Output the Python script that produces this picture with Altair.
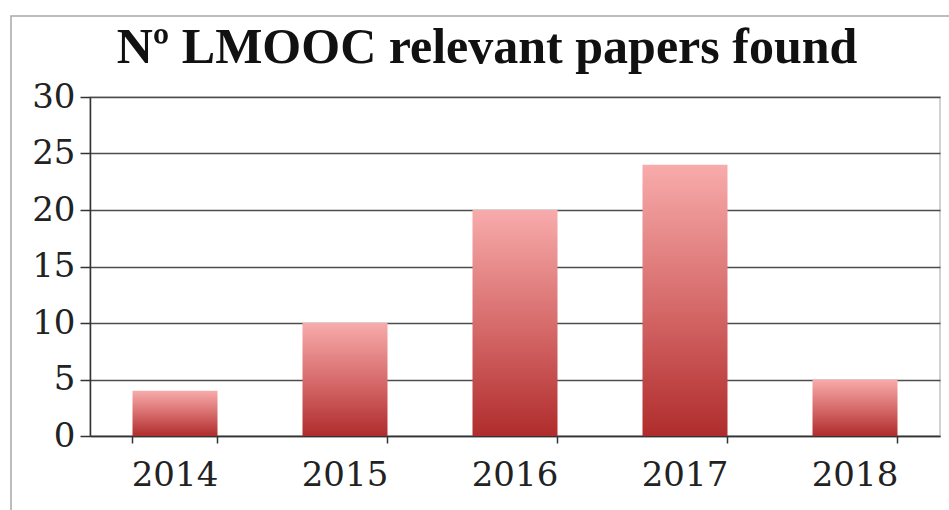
import altair as alt
import pandas as pd

title_text = ["Nº LMOOC relevant papers found"]
years = ["2014", "2015", "2016", "2017", "2018"]
papers = [4, 10, 20, 24, 5]
y_ticks = [0, 5, 10, 15, 20, 25, 30]

df = pd.DataFrame({"year": years, "papers": papers})
tdf = pd.DataFrame({"t": title_text})

gradient = alt.Gradient(
    gradient="linear",
    stops=[
        alt.GradientStop(color="#f8abab", offset=0),
        alt.GradientStop(color="#d46666", offset=0.55),
        alt.GradientStop(color="#b02c2c", offset=1),
    ],
    x1=0, x2=0, y1=0, y2=1,
)

# outer chart frame (decoration)
frame = alt.Chart(tdf).mark_rect(
    fill=None, stroke="#a8a8a8", strokeWidth=1.5, clip=False
).encode(
    x=alt.value(-79), x2=alt.value(870), y=alt.value(-81), y2=alt.value(440)
)

# chart title
title = alt.Chart(tdf).mark_text(
    font="Liberation Serif", fontSize=50, fontWeight="bold", color="#111",
    align="center", baseline="alphabetic", clip=False,
).encode(
    text="t:N", x=alt.value(397), y=alt.value(-34)
)

bars = alt.Chart(df).mark_bar(fill=gradient, stroke=None).encode(
    x=alt.X(
        "year:N",
        sort=years,
        scale=alt.Scale(paddingInner=0.5, paddingOuter=0.25),
        axis=alt.Axis(
            title=None, labelAngle=0, bandPosition=1, tickExtra=True,
            tickSize=7, labelPadding=15, labelFont="DejaVu Serif",
            labelFontSize=34, labelColor="#222", tickColor="#333",
            domainColor="#333", domainWidth=1.5, tickWidth=1.5,
        ),
    ),
    y=alt.Y(
        "papers:Q",
        scale=alt.Scale(domain=[0, 30]),
        axis=alt.Axis(
            title=None, values=y_ticks, tickSize=10,
            labelPadding=5, labelFont="DejaVu Serif", labelFontSize=34,
            labelColor="#222", tickColor="#333", domainColor="#333",
            domainWidth=1.5, tickWidth=1.5, gridColor="#4d4d4d",
            gridWidth=1.5, labelBaseline="middle",
        ),
    ),
)

chart = alt.layer(frame, bars, title).properties(
    width=850,
    height=339,
    autosize=alt.AutoSizeParams(type="none"),
    padding={"left": 90, "top": 97, "right": 9, "bottom": 74},
).configure_view(stroke="#c4c4c4", strokeWidth=1.5)

chart.save("out.html", embed_options={"renderer": "svg", "actions": False})
